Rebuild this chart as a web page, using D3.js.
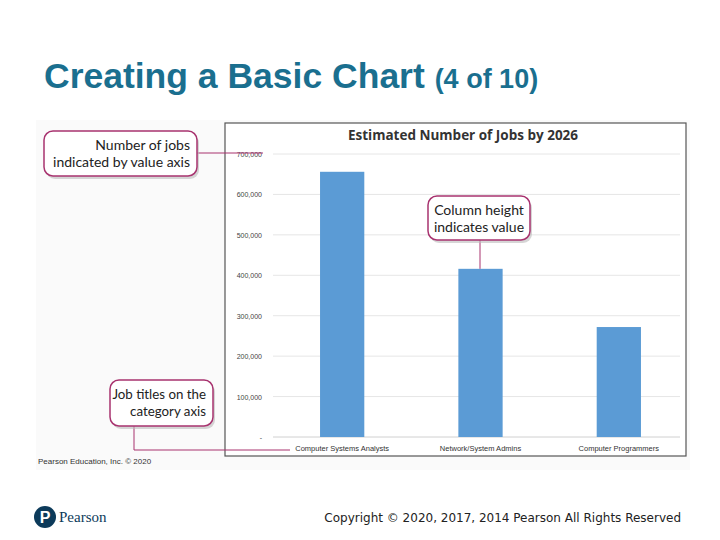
<!DOCTYPE html><html><head><script src="https://cdn.jsdelivr.net/npm/d3@7"></script>
<style>body{margin:0;background:#fff}</style></head><body><svg id="c" width="720" height="540"></svg>
<script>
const categories=["Computer Systems Analysts","Network/System Admins","Computer Programmers"];
const jobs=[656000,416000,272000];
const yTicks=[0,100000,200000,300000,400000,500000,600000,700000];
const svg=d3.select("#c");
const F="Liberation Sans, Arial, sans-serif";
const t=svg.append("text").attr("x",44).attr("y",88).attr("fill","#1a6f8f").attr("font-family",F).attr("font-weight","bold");
t.append("tspan").attr("font-size",35.5).text("Creating a Basic Chart ");
t.append("tspan").attr("font-size",27).text("(4 of 10)");
svg.append("rect").attr("x",36).attr("y",120).attr("width",654).attr("height",350).attr("fill","#fafafa");
svg.append("rect").attr("x",225).attr("y",123).attr("width",461).attr("height",333).attr("fill","#fff").attr("stroke","#555").attr("stroke-width",1.2);
svg.append("text").attr("x",463).attr("y",140).attr("text-anchor","middle").attr("font-family","Open Sans, sans-serif").attr("font-weight","bold").attr("font-size",13.5).attr("fill","#333").text("Estimated Number of Jobs by 2026");
const y=d3.scaleLinear().domain([0,700000]).range([437,154]);
const x=d3.scaleBand().domain(categories).range([273,688]).paddingInner(0.68).paddingOuter(0.34);
const g=svg.append("g");
yTicks.forEach(v=>{
 g.append("line").attr("x1",273).attr("x2",680).attr("y1",y(v)).attr("y2",y(v)).attr("stroke",v?"#e6e6e6":"#d0d0d0");
 g.append("text").attr("x",262).attr("y",y(v)+3).attr("text-anchor","end").attr("font-family",F).attr("font-size",7).attr("fill","#444").text(v?d3.format(",")(v):"-");
});
g.selectAll("rect.b").data(jobs).join("rect").attr("x",(d,i)=>x(categories[i])).attr("width",x.bandwidth()).attr("y",d=>y(d)).attr("height",d=>y(0)-y(d)).attr("fill","#5b9bd5");
categories.forEach(c=>g.append("text").attr("x",x(c)+x.bandwidth()/2).attr("y",451).attr("text-anchor","middle").attr("font-family",F).attr("font-size",7.5).attr("fill","#333").text(c));
const pink="#a8336f";
function box(x0,y0,w,h,lines,anchor,fs){
 svg.append("rect").attr("x",x0+2).attr("y",y0+3).attr("width",w).attr("height",h).attr("rx",9).attr("fill","#bbb").attr("opacity",0.6);
 svg.append("rect").attr("x",x0).attr("y",y0).attr("width",w).attr("height",h).attr("rx",9).attr("fill","#fff").attr("stroke",pink).attr("stroke-width",1.5);
 lines.forEach((l,i)=>svg.append("text").attr("x",anchor==="end"?x0+w-7:x0+w/2).attr("y",y0+19+i*17).attr("text-anchor",anchor).attr("font-family","Lato, sans-serif").attr("font-size",fs||14).attr("fill","#222").text(l));
}
svg.append("line").attr("x1",197).attr("x2",263).attr("y1",153).attr("y2",153).attr("stroke",pink);
svg.append("line").attr("x1",480).attr("x2",480).attr("y1",240).attr("y2",y(jobs[1])).attr("stroke",pink);
svg.append("path").attr("d","M134,426 V450 H290").attr("fill","none").attr("stroke",pink);
box(44,131,153,45,["Number of jobs","indicated by value axis"],"end");
box(428,196,102,44,["Column height","indicates value"],"middle");
box(110,380,103,46,["Job titles on the","category axis"],"end",13.3);
svg.append("text").attr("x",38).attr("y",464).attr("font-family",F).attr("font-size",8).attr("fill","#333").text("Pearson Education, Inc. © 2020");
svg.append("circle").attr("cx",45).attr("cy",517).attr("r",11).attr("fill","#0c3a5a");
svg.append("text").attr("x",45).attr("y",523).attr("text-anchor","middle").attr("font-family",F).attr("font-weight","bold").attr("font-size",16).attr("fill","#fff").text("P");
svg.append("text").attr("x",59).attr("y",522).attr("font-family","Liberation Serif, serif").attr("font-size",15).attr("fill","#0c3a5a").text("Pearson");
svg.append("text").attr("x",681).attr("y",522).attr("text-anchor","end").attr("font-family","DejaVu Sans, sans-serif").attr("font-size",12).attr("fill","#222").text("Copyright © 2020, 2017, 2014 Pearson All Rights Reserved");
</script></body></html>
